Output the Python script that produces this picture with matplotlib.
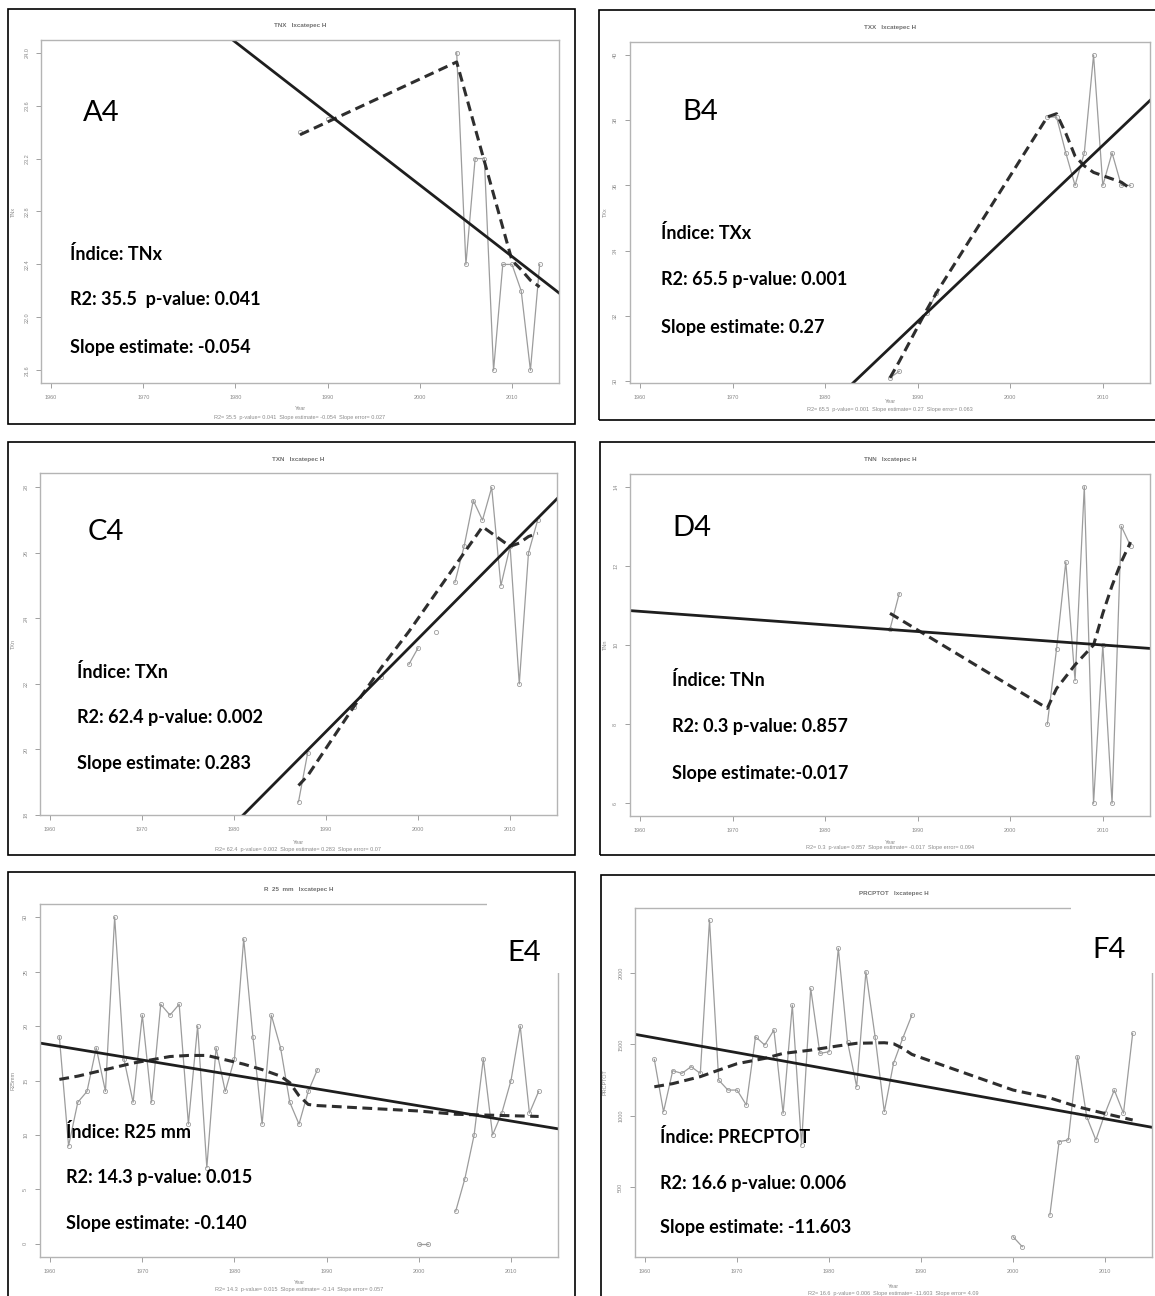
import numpy as np
import matplotlib.pyplot as plt
from matplotlib.patches import Rectangle

W, H = 1155, 1296
XLIM = (1958.9, 2015.1)
XTICKS = [1960, 1970, 1980, 1990, 2000, 2010]

# ---- TNx ----
tnx_years = [1987, 1990, 2004, 2005, 2006, 2007, 2008, 2009, 2010, 2011, 2012, 2013]
tnx_vals = [23.4, 23.5, 24.0, 22.4, 23.2, 23.2, 21.6, 22.4, 22.4, 22.2, 21.6, 22.4]
tnx_smooth_years = [1987, 2004, 2005, 2006, 2007, 2008, 2009, 2010, 2011, 2012, 2013]
tnx_smooth = [23.38, 23.93, 23.68, 23.43, 23.18, 22.93, 22.68, 22.43, 22.36, 22.28, 22.23]
tnx_slope, tnx_at2000 = -0.054, 23.0

# ---- TXx ----
txx_years = [1987, 1988, 1991, 1992, 2004, 2005, 2006, 2007, 2008, 2009, 2010, 2011, 2012, 2013]
txx_vals = [30.1, 30.3, 32.1, 32.7, 38.1, 38.1, 37.0, 36.0, 37.0, 40.0, 36.0, 37.0, 36.0, 36.0]
txx_smooth_years = [1987, 1988, 1991, 1992, 2004, 2005, 2006, 2007, 2008, 2009, 2010, 2011, 2012, 2013]
txx_smooth = [30.1, 30.6, 32.2, 32.7, 38.1, 38.2, 37.6, 36.9, 36.6, 36.4, 36.3, 36.2, 36.1, 35.9]
txx_slope, txx_at2000 = 0.27, 34.53

# ---- TXn ----
txn_years = [1987, 1988, 1993, 1996, 1999, 2000, 2002, 2004, 2005, 2006, 2007, 2008, 2009,
             2010, 2011, 2012, 2013]
txn_vals = [18.4, 19.9, 21.3, 22.2, 22.6, 23.1, 23.6, 25.1, 26.2, 27.6, 27.0, 28.0, 25.0,
            26.2, 22.0, 26.0, 27.0]
txn_smooth_years = [1987, 1988, 1993, 1996, 1999, 2000, 2002, 2004, 2005, 2006, 2007, 2008,
                    2009, 2010, 2011, 2012, 2013]
txn_smooth = [18.9, 19.2, 21.3, 22.5, 23.6, 24.0, 24.8, 25.6, 26.0, 26.4, 26.8, 26.6,
              26.4, 26.2, 26.3, 26.5, 26.6]
txn_slope, txn_at2000 = 0.283, 23.38

# ---- TNn ----
tnn_years = [1987, 1988, 2004, 2005, 2006, 2007, 2008, 2009, 2010, 2011, 2012, 2013]
tnn_vals = [10.4, 11.3, 8.0, 9.9, 12.1, 9.1, 14.0, 6.0, 10.0, 6.0, 13.0, 12.5]
tnn_smooth_years = [1987, 2004, 2005, 2006, 2007, 2008, 2009, 2010, 2011, 2012, 2013]
tnn_smooth = [10.8, 8.4, 8.9, 9.2, 9.5, 9.75, 10.0, 10.8, 11.5, 12.1, 12.6]
tnn_slope, tnn_at2000 = -0.017, 10.17

# ---- R25mm ----
r25_years = list(range(1961, 1990)) + [2000, 2001] + list(range(2004, 2014))
r25_vals = [19, 9, 13, 14, 18, 14, 30, 17, 13, 21, 13, 22, 21, 22, 11, 20, 7, 18, 14, 17,
            28, 19, 11, 21, 18, 13, 11, 14, 16,
            0, 0,
            3, 6, 10, 17, 10, 12, 15, 20, 12, 14]
r25_smooth_years = [1961, 1963, 1965, 1967, 1969, 1971, 1973, 1975, 1977, 1979, 1981, 1983,
                    1985, 1986, 1987, 1988, 1989, 2000, 2004, 2013]
r25_smooth = [15.1, 15.4, 15.8, 16.2, 16.6, 16.9, 17.2, 17.3, 17.3, 16.9, 16.5, 16.0,
              15.4, 14.8, 13.6, 12.8, 12.7, 12.2, 11.9, 11.7]
r25_slope, r25_at2000 = -0.140, 12.68

# ---- PRCPTOT ----
prcp_years = list(range(1961, 1990)) + [2000, 2001] + list(range(2004, 2014))
prcp_vals = [1395, 1028, 1316, 1297, 1344, 1297, 2372, 1250, 1180, 1180, 1075, 1554, 1496,
             1601, 1017, 1776, 795, 1893, 1437, 1449, 2174, 1519, 1203, 2010, 1554, 1028,
             1367, 1543, 1706,
             151, 81,
             304, 818, 830, 1414, 993, 830, 1017, 1180, 1017, 1578]
prcp_smooth_years = [1961, 1963, 1966, 1968, 1970, 1973, 1975, 1978, 1981, 1983, 1986, 1987,
                     1988, 1989, 2000, 2004, 2007, 2010, 2013]
prcp_smooth = [1203, 1225, 1274, 1320, 1365, 1402, 1437, 1460, 1490, 1508, 1512, 1505,
               1473, 1430, 1180, 1125, 1063, 1015, 970]
prcp_slope, prcp_at2000 = -11.603, 1094.0

LABEL_FONT = ["Lato", "DejaVu Sans"]
SMALL_FONT = ["Liberation Sans", "DejaVu Sans"]
GREY = "#8a8a8a"

fig = plt.figure(figsize=(W / 100, H / 100), dpi=100)


def fx(x):
    return x / W


def fy(y):
    return 1 - y / H


def rect(x0, y0, x1, y1):
    return [x0 / W, 1 - y1 / H, (x1 - x0) / W, (y1 - y0) / H]


def panel(frame, box, years, vals, sm_years, sm_vals, slope, at2000, ylim, yticks, yfmt,
          title, ylabel, sub, title_y, year_y, sub_y, ylab_x, tag, tag_xy, lines, text_x,
          text_y, cover=None):
    ax = fig.add_axes(rect(*box))
    yrs = np.asarray(years, float)
    v = np.asarray(vals, float)
    cut = np.where(np.diff(yrs) > 1)[0] + 1
    for sy, sv in zip(np.split(yrs, cut), np.split(v, cut)):
        ax.plot(sy, sv, color="#9c9c9c", lw=0.9, marker="o", ms=3, mfc="none", mew=0.6)
    ax.plot(sm_years, sm_vals, color="#2e2e2e", lw=2.2, ls=(0, (3.2, 1.8)))
    t = np.array(XLIM)
    ax.plot(t, at2000 + slope * (t - 2000), color="#1e1e1e", lw=2.0)
    ax.set_xlim(XLIM)
    ax.set_ylim(ylim)
    ax.set_xticks(XTICKS)
    ax.set_xticklabels([str(x) for x in XTICKS], fontsize=4, color=GREY, family=SMALL_FONT)
    ax.set_yticks(yticks)
    ax.set_yticklabels([yfmt.format(y) for y in yticks], fontsize=4, color=GREY,
                       family=SMALL_FONT, rotation=90, va="center")
    ax.tick_params(length=3.5, width=0.7, color="#a0a0a0", pad=5)
    for s in ax.spines.values():
        s.set_color("#b4b4b4")
        s.set_linewidth(1.0)

    cx = (box[0] + box[2]) / 2
    fig.text(fx(cx), fy(title_y), title, fontsize=4.5, color="#6e6e6e",
             family=SMALL_FONT, ha="center", va="center", fontweight="bold")
    fig.text(fx(cx), fy(year_y), "Year", fontsize=4, color=GREY,
             family=SMALL_FONT, ha="center", va="center")
    fig.text(fx(cx), fy(sub_y), sub, fontsize=4, color=GREY,
             family=SMALL_FONT, ha="center", va="center")
    fig.text(fx(ylab_x), fy((box[1] + box[3]) / 2), ylabel, fontsize=4, color=GREY,
             family=SMALL_FONT, ha="center", va="center", rotation=90)

    if cover is not None:
        fig.add_artist(Rectangle((fx(cover[0]), fy(cover[3])),
                                 (cover[2] - cover[0]) / W, (cover[3] - cover[1]) / H,
                                 transform=fig.transFigure, facecolor="white",
                                 edgecolor="none", zorder=3))
    fx0, fy0, fx1, fy1 = frame
    fig.add_artist(Rectangle((fx(fx0), fy(fy1)), (fx1 - fx0) / W, (fy1 - fy0) / H,
                             transform=fig.transFigure, facecolor="none",
                             edgecolor="black", lw=1.2, zorder=4))
    fig.text(fx(tag_xy[0]), fy(tag_xy[1]), tag, fontsize=21, family=LABEL_FONT,
             ha="left", va="center", zorder=5)
    for line, ty in zip(lines, text_y):
        fig.text(fx(text_x), fy(ty), line, fontsize=13, family=LABEL_FONT,
                 fontweight="bold", ha="left", va="center", zorder=5)


panel((8, 9, 575, 424), (41, 40, 559, 383),
      tnx_years, tnx_vals, tnx_smooth_years, tnx_smooth, tnx_slope, tnx_at2000,
      (21.504, 24.096), [21.6, 22.0, 22.4, 22.8, 23.2, 23.6, 24.0], "{:.1f}",
      "TNX   Ixcatepec H", "TNx",
      "R2= 35.5  p-value= 0.041  Slope estimate= -0.054  Slope error= 0.027",
      26, 409, 417, 13, "A4", (83, 113),
      ["Índice: TNx", "R2: 35.5  p-value: 0.041", "Slope estimate: -0.054"],
      70, [254, 300, 347])

panel((599, 10, 1162, 420), (630, 42, 1150, 383),
      txx_years, txx_vals, txx_smooth_years, txx_smooth, txx_slope, txx_at2000,
      (29.94, 40.4), [30, 32, 34, 36, 38, 40], "{:d}",
      "TXX   Ixcatepec H", "TXx",
      "R2= 65.5  p-value= 0.001  Slope estimate= 0.27  Slope error= 0.063",
      28, 402, 409, 605, "B4", (682, 112),
      ["Índice: TXx", "R2: 65.5 p-value: 0.001", "Slope estimate: 0.27"],
      661, [233, 279, 327])

panel((8, 442, 575, 855), (40, 473, 557, 815),
      txn_years, txn_vals, txn_smooth_years, txn_smooth, txn_slope, txn_at2000,
      (18.0, 28.44), [18, 20, 22, 24, 26, 28], "{:d}",
      "TXN   Ixcatepec H", "TXn",
      "R2= 62.4  p-value= 0.002  Slope estimate= 0.283  Slope error= 0.07",
      459, 843, 850, 13, "C4", (88, 532),
      ["Índice: TXn", "R2: 62.4 p-value: 0.002", "Slope estimate: 0.283"],
      77, [672, 717, 763])

panel((600, 442, 1162, 855), (630, 474, 1150, 816),
      tnn_years, tnn_vals, tnn_smooth_years, tnn_smooth, tnn_slope, tnn_at2000,
      (5.68, 14.32), [6, 8, 10, 12, 14], "{:d}",
      "TNN   Ixcatepec H", "TNn",
      "R2= 0.3  p-value= 0.857  Slope estimate= -0.017  Slope error= 0.094",
      459, 842, 848, 605, "D4", (672, 528),
      ["Índice: TNn", "R2: 0.3 p-value: 0.857", "Slope estimate:-0.017"],
      672, [680, 726, 773])

panel((8, 872, 575, 1310), (40, 904, 558, 1257),
      r25_years, r25_vals, r25_smooth_years, r25_smooth, r25_slope, r25_at2000,
      (-1.2, 31.2), [0, 5, 10, 15, 20, 25, 30], "{:d}",
      "R  25  mm   Ixcatepec H", "R25mm",
      "R2= 14.3  p-value= 0.015  Slope estimate= -0.14  Slope error= 0.057",
      889, 1283, 1290, 13, "E4", (507, 953),
      ["Índice: R25 mm", "R2: 14.3 p-value: 0.015", "Slope estimate: -0.140"],
      66, [1132, 1178, 1224], cover=(487, 902, 574, 973))

panel((601, 875, 1162, 1310), (635, 908, 1152, 1257),
      prcp_years, prcp_vals, prcp_smooth_years, prcp_smooth, prcp_slope, prcp_at2000,
      (9, 2457), [500, 1000, 1500, 2000], "{:d}",
      "PRCPTOT   Ixcatepec H", "PRCPTOT",
      "R2= 16.6  p-value= 0.006  Slope estimate= -11.603  Slope error= 4.09",
      893, 1286, 1293, 605, "F4", (1092, 950),
      ["Índice: PRECPTOT", "R2: 16.6 p-value: 0.006", "Slope estimate: -11.603"],
      660, [1137, 1183, 1228], cover=(1071, 905, 1160, 973))

fig.savefig("out.png", dpi=100)
